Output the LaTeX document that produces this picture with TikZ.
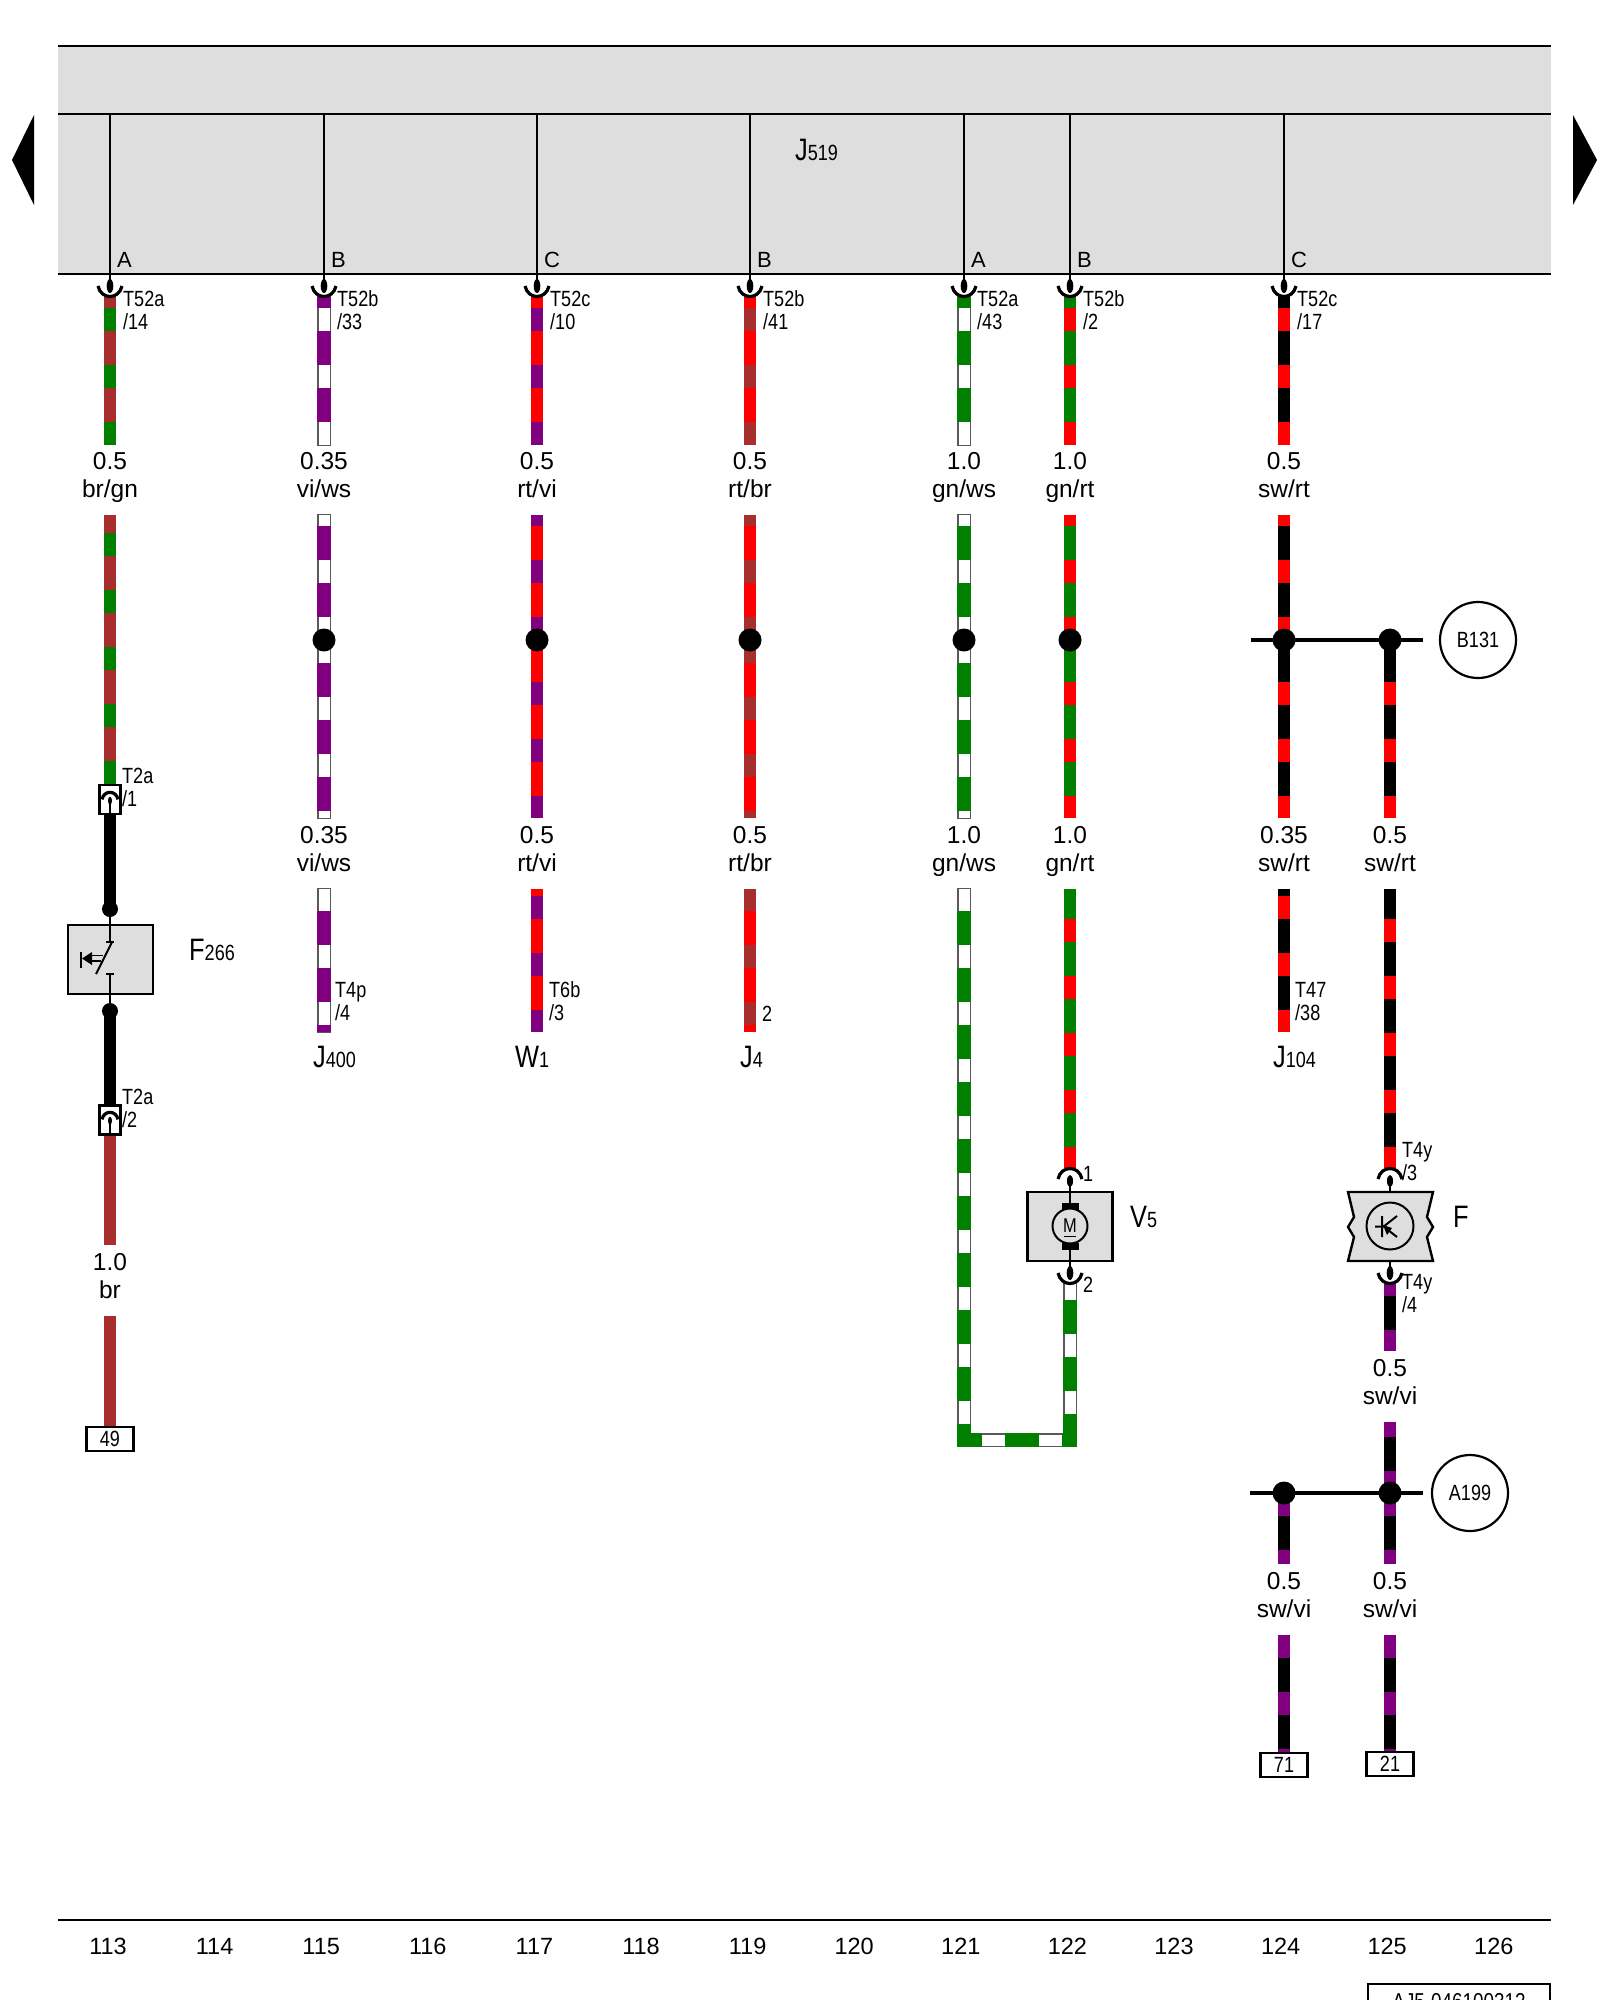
\documentclass[tikz,border=0pt]{standalone}
\usepackage{fontspec}
\setmainfont{Liberation Sans}
\newfontfamily\narrowfont[FakeStretch=0.82]{Liberation Sans}
\usepackage{xcolor}
\usetikzlibrary{positioning,backgrounds}

\definecolor{wbrown}{HTML}{A82E2E}
\definecolor{wgreen}{HTML}{007F00}
\definecolor{wviolet}{HTML}{800080}
\definecolor{boxgray}{HTML}{DEDEDE}

\newcommand{\compname}[2]{{\narrowfont\fontsize{31}{31}\selectfont #1}{\narrowfont\fontsize{22}{22}\selectfont #2}}

\tikzset{
	wire/.style n args={3}{draw=#1,line width=12pt,
		postaction={draw=#2,dash pattern=on 23pt off 34pt,dash phase=#3pt}},
	whitewire/.style n args={2}{
		preaction={draw=black!65,line width=13.5pt,shorten <=-1pt,shorten >=-1pt},
		draw=white,line width=11pt,
		postaction={draw=#1,line width=13.5pt,dash pattern=on 0pt off 23pt on 34pt off 0pt,dash phase=#2pt}},
	plainwire/.style={draw=#1,line width=12pt},
	sigline/.style={draw=black,line width=2.4pt},
	busline/.style={draw=black,line width=3.2pt},
	wirelabel/.style={inner sep=0pt,minimum height=70pt,minimum width=10pt,align=center,
		font=\fontsize{24.5}{28}\selectfont,text height=43pt,text depth=8pt},
	pinlabel/.style={inner sep=0pt,anchor=north west,align=left,
		font=\narrowfont\fontsize{22}{23}\selectfont,text height=39pt},
	pinnumber/.style={inner sep=0pt,anchor=north west,
		font=\narrowfont\fontsize{22}{22}\selectfont,text height=16pt},
	partlabel/.style={inner sep=0pt,anchor=base west},
	letterlabel/.style={inner sep=0pt,anchor=base west,font=\fontsize{22}{22}\selectfont},
	compbox/.style={draw=black,line width=2.4pt,fill=boxgray,rectangle,inner sep=0pt},
	connbox/.style={draw=black,line width=2.2pt,fill=white,rectangle,inner sep=0pt,
		minimum width=21pt,minimum height=29pt},
	numbox/.style={draw=black,line width=2.2pt,fill=white,rectangle,inner sep=0pt,
		minimum width=47pt,minimum height=24pt,font=\narrowfont\fontsize{22}{22}\selectfont},
	splice/.style={circle,fill=black,inner sep=0pt,minimum size=#1},
	earth/.style={circle,draw=black,line width=2.2pt,inner sep=0pt,minimum size=76pt,
		font=\narrowfont\fontsize{22}{22}\selectfont},
	cupdown/.pic={
		\draw[line width=3.2pt] (-12,-11) .. controls (-9,3) and (9,3) .. (12,-11);
		\fill (0,-11) ellipse (3.3 and 7);
	},
	archup/.pic={
		\draw[line width=3.2pt] (-12,11) .. controls (-9,-3) and (9,-3) .. (12,11);
		\fill (0,13) ellipse (3 and 6);
	}
}

\begin{document}
\begin{tikzpicture}[x=1pt,y=-1pt]
\useasboundingbox (0,0) rectangle (1600,2000);

\node[fill=boxgray,minimum width=1493pt,minimum height=228pt,inner sep=0pt] (J519) at (804.5,160) {};
\coordinate (headTL) at (58,46);
\coordinate (headTR) at (1551,46);
\coordinate (headML) at (58,114);
\coordinate (headMR) at (1551,114);
\coordinate (headBL) at (58,274);
\coordinate (headBR) at (1551,274);
\draw[sigline,line width=2.8pt] (headTL) -- (headTR);
\draw[sigline,line width=2.8pt] (headML) -- (headMR);
\draw[sigline,line width=2.8pt] (headBL) -- (headBR);
\node[partlabel] (J519name) at (795,160) {\compname{J}{519}};

\fill (34,115) -- (34,205) -- (12,160) -- cycle;
\fill (1573,115) -- (1573,205) -- (1597,160) -- cycle;

\foreach \col/\x/\ltr/\plug/\pin in {A/110/A/T52a/14,B/324/B/T52b/33,C/537/C/T52c/10,D/750/B/T52b/41,E/964/A/T52a/43,F/1070/B/T52b/2,G/1284/C/T52c/17}{
	\coordinate (top\col) at (\x,114);
	\coordinate (cup\col) at (\x,297);
	\coordinate (pin\col) at (\x,287);
	\draw[sigline] (top\col) -- (pin\col);
	\pic at (cup\col) {cupdown};
	\node[letterlabel] (ltr\col) at (\x+7,267) {\ltr};
	\node[pinlabel] (plug\col) at (\x+13,290) {\plug\\/\pin};
}

\foreach \lname/\x/\y/\size/\code in {
	lA1/110/480/0.5/{br/gn},lB1/324/480/0.35/{vi/ws},lC1/537/480/0.5/{rt/vi},lD1/750/480/0.5/{rt/br},
	lE1/964/480/1.0/{gn/ws},lF1/1070/480/1.0/{gn/rt},lG1/1284/480/0.5/{sw/rt},
	lB2/324/853.5/0.35/{vi/ws},lC2/537/853.5/0.5/{rt/vi},lD2/750/853.5/0.5/{rt/br},
	lE2/964/853.5/1.0/{gn/ws},lF2/1070/853.5/1.0/{gn/rt},lG2/1284/853.5/0.35/{sw/rt},lH2/1390/853.5/0.5/{sw/rt},
	lA3/110/1280.5/1.0/{br},lH3/1390/1386.5/0.5/{sw/vi},lG4/1284/1599.5/0.5/{sw/vi},lH4/1390/1599.5/0.5/{sw/vi}}{
	\node[wirelabel] (\lname) at (\x,\y) {\size\\\code};
}

\foreach \col/\x in {B/324,C/537,D/750,E/964,F/1070,G/1284,H/1390}{
	\node[splice=23pt] (dot\col) at (\x,640) {};
}
\node[splice=23pt] (dotA1) at (1284,1493) {};
\node[splice=23pt] (dotA2) at (1390,1493) {};
\coordinate (barBL) at (1251,640);
\coordinate (barBR) at (1423,640);
\coordinate (barAL) at (1250,1493);
\coordinate (barAR) at (1423,1493);
\draw[busline] (barBL) -- (barBR);
\draw[busline] (barAL) -- (barAR);
\node[earth] (B131) at (1478,640) {B131};
\node[earth] (A199) at (1470,1493) {A199};

\node[connbox] (T2a1) at (110,799.5) {};
\node[connbox] (T2a2) at (110,1120) {};
\pic[scale=.67] at (110,792) {archup};
\pic[scale=.67] at (110,1112) {archup};
\coordinate (T2a1pin) at (110,800);
\coordinate (T2a2pin) at (110,1120);
\draw[sigline] (T2a1pin) -- (T2a1.south);
\draw[sigline] (T2a2pin) -- (T2a2.south);
\node[pinlabel] (T2a1txt) at (122,767) {T2a\\/1};
\node[pinlabel] (T2a2txt) at (122,1088) {T2a\\/2};

\node[compbox,minimum width=85pt,minimum height=69pt] (F266) at (110.5,959.5) {};
\node[splice=16pt] (F266top) at (110,909) {};
\node[splice=16pt] (F266bot) at (110,1011) {};
\coordinate (contactA) at (110,942);
\coordinate (contactB) at (110,974);
\draw[sigline] (F266top) -- (contactA);
\draw[sigline] (contactB) -- (F266bot);
\draw[line width=2pt] (106,942) -- (114,942) (106,974) -- (114,974);
\draw[line width=2pt] (112,942) -- (96,974);
\draw[line width=2pt] (81,952) -- (81,968);
\fill (82,958.5) -- (92,952) -- (92,965) -- cycle;
\draw[line width=1.8pt] (92,955.5) -- (103,955.5) (92,961) -- (101,961);
\node[partlabel] (F266name) at (189,960) {\compname{F}{266}};

\node[numbox] (n49) at (110,1439) {49};
\node[numbox] (n71) at (1284,1765) {71};
\node[numbox] (n21) at (1390,1764) {21};

\foreach \lname/\x/\txt in {J400/313/{\compname{J}{400}},W1/515/{\compname{W}{1}},J4/740/{\compname{J}{4}},J104/1273/{\compname{J}{104}}}{
	\node[partlabel] (\lname) at (\x,1067) {\txt};
}
\node[pinlabel] (T4p) at (335,981) {T4p\\/4};
\node[pinlabel] (T6b) at (549,981) {T6b\\/3};
\node[pinnumber] (J4pin) at (762,1005) {2};
\node[pinlabel] (T47) at (1295,981) {T47\\/38};

\node[compbox,minimum width=85pt,minimum height=69pt] (V5) at (1070,1226.5) {};
\coordinate (V5top) at (1070,1168);
\coordinate (V5bot) at (1070,1284);
\pic at (V5top) {archup};
\pic at (V5bot) {cupdown};
\draw[sigline] (1070,1181) -- (V5.north);
\draw[sigline] (V5.north) -- (V5.south);
\draw[sigline] (V5.south) -- (1070,1274);
\fill (1062,1203) rectangle (1079,1211);
\fill (1062,1243) rectangle (1079,1250);
\node[circle,draw=black,line width=2pt,fill=boxgray,minimum size=35pt,inner sep=0pt] (motor) at (1070,1226) {};
\node[inner sep=0pt,font=\narrowfont\fontsize{20}{20}\selectfont] (motorM) at (1070,1225.5) {M};
\draw[line width=1.8pt] (1064,1236.5) -- (1076,1236.5);
\node[partlabel] (V5name) at (1130,1227) {\compname{V}{5}};
\node[pinnumber] (V5pin1) at (1083,1165) {1};
\node[pinnumber] (V5pin2) at (1083,1276) {2};

\draw[line width=2.4pt,fill=boxgray] (1348,1192) -- (1433,1192) -- (1427,1217) -- (1433,1227) -- (1427,1237) -- (1433,1261)
	-- (1348,1261) -- (1354,1237) -- (1348,1227) -- (1354,1217) -- cycle;
\coordinate (Ftop) at (1390,1168);
\coordinate (Fbot) at (1390,1284);
\pic at (Ftop) {archup};
\pic at (Fbot) {cupdown};
\draw[sigline] (1390,1181) -- (1390,1192);
\draw[sigline] (1390,1261) -- (1390,1274);
\node[circle,draw=black,line width=2pt,minimum size=47pt,inner sep=0pt] (Fsensor) at (1390,1226) {};
\draw[line width=2pt] (1382,1216) -- (1382,1237) (1375,1226.5) -- (1382,1226.5) (1397,1216) -- (1383,1227) (1397,1237) -- (1388,1230);
\fill (1383,1225) -- (1392,1228) -- (1387,1235) -- cycle;
\node[partlabel,font=\narrowfont\fontsize{31}{31}\selectfont] (Fname) at (1453,1227) {F};
\node[pinlabel] (T4y3) at (1402,1141) {T4y\\/3};
\node[pinlabel] (T4y4) at (1402,1273) {T4y\\/4};

\begin{scope}[on background layer]
\draw[wire={wbrown}{wgreen}{46}] (cupA) -- (lA1);
\draw[wire={wbrown}{wgreen}{39}] (lA1) -- (T2a1);
\draw[plainwire=black] (T2a1) -- (F266top.center);
\draw[plainwire=black] (F266bot.center) -- (T2a2);
\draw[plainwire=wbrown] (T2a2) -- (lA3);
\draw[plainwire=wbrown] (lA3) -- (n49);

\draw[whitewire={wviolet}{46}] (cupB) -- (lB1);
\draw[whitewire={wviolet}{12}] (lB1) -- (dotB.center);
\draw[whitewire={wviolet}{0}] (dotB.center) -- (lB2);
\coordinate (endB) at (324,1032);
\draw[whitewire={wviolet}{1}] (lB2) -- (endB);

\draw[wire={red}{wviolet}{46}] (cupC) -- (lC1);
\draw[wire={red}{wviolet}{12}] (lC1) -- (dotC.center);
\draw[wire={red}{wviolet}{15}] (dotC.center) -- (lC2);
\coordinate (endC) at (537,1032);
\draw[wire={red}{wviolet}{50}] (lC2) -- (endC);

\draw[wire={red}{wbrown}{46}] (cupD) -- (lD1);
\draw[wire={red}{wbrown}{12}] (lD1) -- (dotD.center);
\draw[wire={red}{wbrown}{0}] (dotD.center) -- (lD2);
\coordinate (endD) at (750,1032);
\draw[wire={red}{wbrown}{1}] (lD2) -- (endD);

\draw[whitewire={wgreen}{46}] (cupE) -- (lE1);
\draw[whitewire={wgreen}{12}] (lE1) -- (dotE.center);
\draw[whitewire={wgreen}{0}] (dotE.center) -- (lE2);
\coordinate (loopL) at (964,1440);
\coordinate (loopR) at (1070,1440);
\draw[whitewire={wgreen}{1}] (lE2) -- (loopL) -- (loopR) -- (V5bot);

\draw[wire={wgreen}{red}{46}] (cupF) -- (lF1);
\draw[wire={wgreen}{red}{12}] (lF1) -- (dotF.center);
\draw[wire={wgreen}{red}{15}] (dotF.center) -- (lF2);
\draw[wire={wgreen}{red}{27}] (lF2) -- (V5top);

\draw[wire={black}{red}{46}] (cupG) -- (lG1);
\draw[wire={black}{red}{12}] (lG1) -- (dotG.center);
\draw[wire={black}{red}{15}] (dotG.center) -- (lG2);
\coordinate (endG) at (1284,1032);
\draw[wire={black}{red}{50}] (lG2) -- (endG);

\draw[wire={black}{red}{15}] (dotH.center) -- (lH2);
\draw[wire={black}{red}{27}] (lH2) -- (Ftop);
\draw[wire={black}{wviolet}{11}] (Fbot) -- (lH3);
\draw[wire={black}{wviolet}{8}] (lH3) -- (dotA2.center);
\draw[wire={black}{wviolet}{0}] (dotA2.center) -- (lH4);
\draw[wire={black}{wviolet}{0}] (dotA1.center) -- (lG4);
\draw[wire={black}{wviolet}{0}] (lG4) -- (n71);
\draw[wire={black}{wviolet}{0}] (lH4) -- (n21);
\end{scope}

\coordinate (footL) at (58,1920);
\coordinate (footR) at (1551,1920);
\draw[sigline,line width=2.8pt] (footL) -- (footR);
\foreach \n [count=\i from 0] in {113,...,126}{
	\node[inner sep=0pt,anchor=base,font=\fontsize{23.5}{23.5}\selectfont] (page\n) at (108+106.6*\i,1954) {\n};
}
\begin{scope}
\clip (0,0) rectangle (1600,2000);
\node[draw=black,line width=2.4pt,rectangle,inner sep=0pt,minimum width=182pt,minimum height=36pt,
	font=\narrowfont\fontsize{23}{23}\selectfont] (docno) at (1459,2002) {AJ5-046100312};
\end{scope}
\end{tikzpicture}
\end{document}
